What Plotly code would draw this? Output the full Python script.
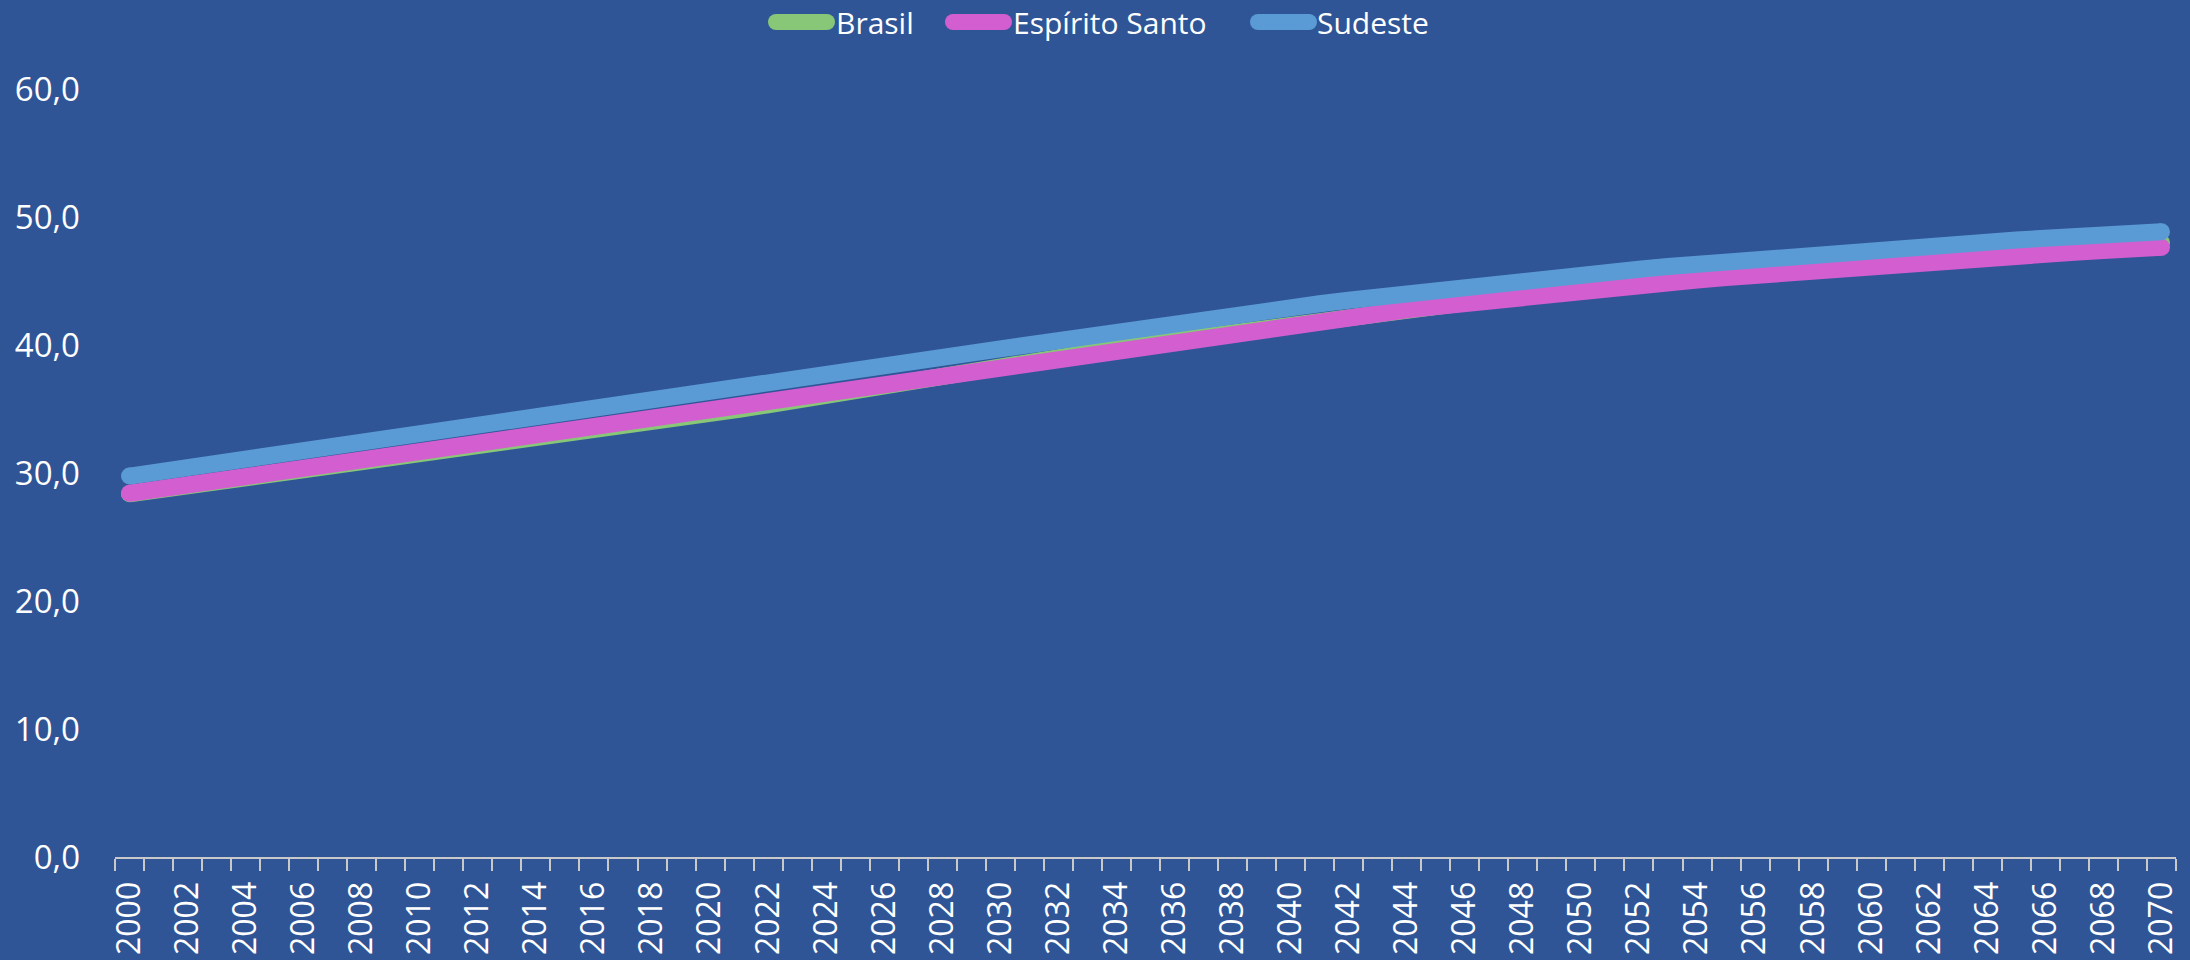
import plotly.graph_objects as go

years = list(range(2000, 2071))

brasil = [28.37, 28.67, 28.97, 29.27, 29.57, 29.85, 30.16, 30.46, 30.77, 31.08,
          31.38, 31.69, 32.01, 32.32, 32.64, 32.96, 33.26, 33.60, 33.94, 34.28,
          34.62, 34.97, 35.33, 35.72, 36.10, 36.50, 36.90, 37.28, 37.65, 38.02,
          38.37, 38.73, 39.09, 39.42, 39.75, 40.07, 40.39, 40.70, 41.01, 41.32,
          41.62, 41.92, 42.21, 42.49, 42.77, 43.04, 43.32, 43.58, 43.84, 44.09,
          44.33, 44.57, 44.81, 45.03, 45.25, 45.47, 45.68, 45.89, 46.09, 46.28,
          46.46, 46.65, 46.82, 46.99, 47.15, 47.31, 47.47, 47.62, 47.76, 47.89,
          48.00]

espirito_santo = [28.42, 28.75, 29.08, 29.40, 29.73, 30.05, 30.38, 30.70, 31.03, 31.36,
                  31.68, 32.01, 32.34, 32.67, 32.99, 33.32, 33.64, 33.97, 34.30, 34.62,
                  34.95, 35.28, 35.61, 35.97, 36.32, 36.68, 37.03, 37.38, 37.72, 38.07,
                  38.41, 38.76, 39.10, 39.43, 39.76, 40.09, 40.41, 40.72, 41.03, 41.34,
                  41.64, 41.93, 42.21, 42.48, 42.75, 43.01, 43.27, 43.51, 43.76, 43.99,
                  44.22, 44.44, 44.66, 44.87, 45.07, 45.27, 45.46, 45.65, 45.83, 46.00,
                  46.17, 46.34, 46.50, 46.66, 46.81, 46.96, 47.11, 47.25, 47.38, 47.51,
                  47.63]

sudeste = [29.76, 30.08, 30.41, 30.73, 31.05, 31.37, 31.70, 32.02, 32.34, 32.66,
           32.99, 33.31, 33.63, 33.97, 34.30, 34.62, 34.94, 35.27, 35.59, 35.91,
           36.23, 36.57, 36.90, 37.26, 37.61, 37.97, 38.32, 38.67, 39.01, 39.36,
           39.70, 40.05, 40.39, 40.72, 41.05, 41.38, 41.70, 42.01, 42.32, 42.63,
           42.93, 43.22, 43.50, 43.77, 44.04, 44.30, 44.55, 44.79, 45.03, 45.26,
           45.49, 45.71, 45.92, 46.13, 46.33, 46.52, 46.71, 46.90, 47.08, 47.25,
           47.42, 47.59, 47.75, 47.90, 48.05, 48.20, 48.34, 48.47, 48.60, 48.73,
           48.85]

series_names = ["Brasil", "Espírito Santo", "Sudeste"]
series_values = [brasil, espirito_santo, sudeste]
series_colors = ["#87C777", "#D35ED0", "#5B9BD5"]

y_tickvals = [0, 10, 20, 30, 40, 50, 60]
y_ticktext = ["0,0", "10,0", "20,0", "30,0", "40,0", "50,0", "60,0"]
x_tickvals = years[::2]
x_ticktext = [str(y) for y in x_tickvals]

BG = "#2F5597"
LW = 17

# figure geometry (pixels)
W, H = 2190, 960
ML, MR, MT, MB = 115, 14, 89, 103
PW, PH = W - ML - MR, H - MT - MB

def px_to_paper_x(px):
    return (px - ML) / PW

def py_to_paper_y(py):
    return (H - MB - py) / PH

fig = go.Figure()
for name, vals, col in zip(series_names, series_values, series_colors):
    fig.add_trace(go.Scatter(
        x=years, y=vals, name=name, mode="lines",
        line=dict(color=col, width=LW), showlegend=False,
    ))
    # round end caps
    fig.add_trace(go.Scatter(
        x=[years[0], years[-1]], y=[vals[0], vals[-1]], mode="markers",
        marker=dict(color=col, size=LW, line=dict(width=0)),
        showlegend=False, hoverinfo="skip",
    ))

# custom legend: rounded thick line swatches + labels
legend_swatch_left = [768, 945, 1250]   # pixel x of swatch left edge
legend_text_left = [834, 1011, 1315]    # pixel x of label start
legend_y = 22
sw_len, sw_th = 67, 16
shapes, annotations = [], []
for name, col, sx, tx in zip(series_names, series_colors, legend_swatch_left, legend_text_left):
    xa = px_to_paper_x(sx)
    ya = py_to_paper_y(legend_y)
    r = sw_th / 2
    shapes.append(dict(type="line", xref="paper", yref="paper",
                       xsizemode="pixel", ysizemode="pixel",
                       xanchor=xa, yanchor=ya,
                       x0=r, x1=sw_len - r, y0=0, y1=0,
                       line=dict(color=col, width=sw_th)))
    for cx in (r, sw_len - r):
        shapes.append(dict(type="circle", xref="paper", yref="paper",
                           xsizemode="pixel", ysizemode="pixel",
                           xanchor=xa, yanchor=ya,
                           x0=cx - r, x1=cx + r, y0=-r, y1=r,
                           fillcolor=col, line=dict(width=0)))
    annotations.append(dict(text=name, xref="paper", yref="paper",
                            x=px_to_paper_x(tx), y=ya, xanchor="left",
                            yanchor="middle", showarrow=False,
                            font=dict(family="Open Sans", size=30, color="white")))

fig.update_layout(
    width=W, height=H,
    paper_bgcolor=BG, plot_bgcolor=BG,
    margin=dict(l=ML, r=MR, t=MT, b=MB),
    font=dict(family="Open Sans", color="white"),
    showlegend=False,
    shapes=shapes,
    annotations=annotations,
    xaxis=dict(
        range=[1999.5, 2070.5], automargin=False,
        tickmode="array", tickvals=x_tickvals, ticktext=x_ticktext,
        tickangle=-90, ticks="",
        tickfont=dict(family="Open Sans", size=32, color="white"),
        showline=True, linecolor="#C9C9C9", linewidth=2,
        showgrid=False, zeroline=False,
        ticklabelstandoff=10,
        minor=dict(tick0=1999.5, dtick=1, ticks="outside", ticklen=12,
                   tickcolor="#C9C9C9", tickwidth=2, showgrid=False),
    ),
    yaxis=dict(
        range=[0, 60], automargin=False,
        tickmode="array", tickvals=y_tickvals, ticktext=y_ticktext,
        tickfont=dict(family="Open Sans", size=33, color="white"),
        ticks="", showline=False, showgrid=False, zeroline=False,
        ticklabelstandoff=34,
    ),
)

fig.write_html(
    "out.html",
    config={"displayModeBar": False},
    post_script=(
        "document.documentElement.style.margin='0';"
        "document.body.style.margin='0';"
        "document.body.style.overflow='hidden';"
        "document.body.style.background='" + BG + "';"
    ),
)
